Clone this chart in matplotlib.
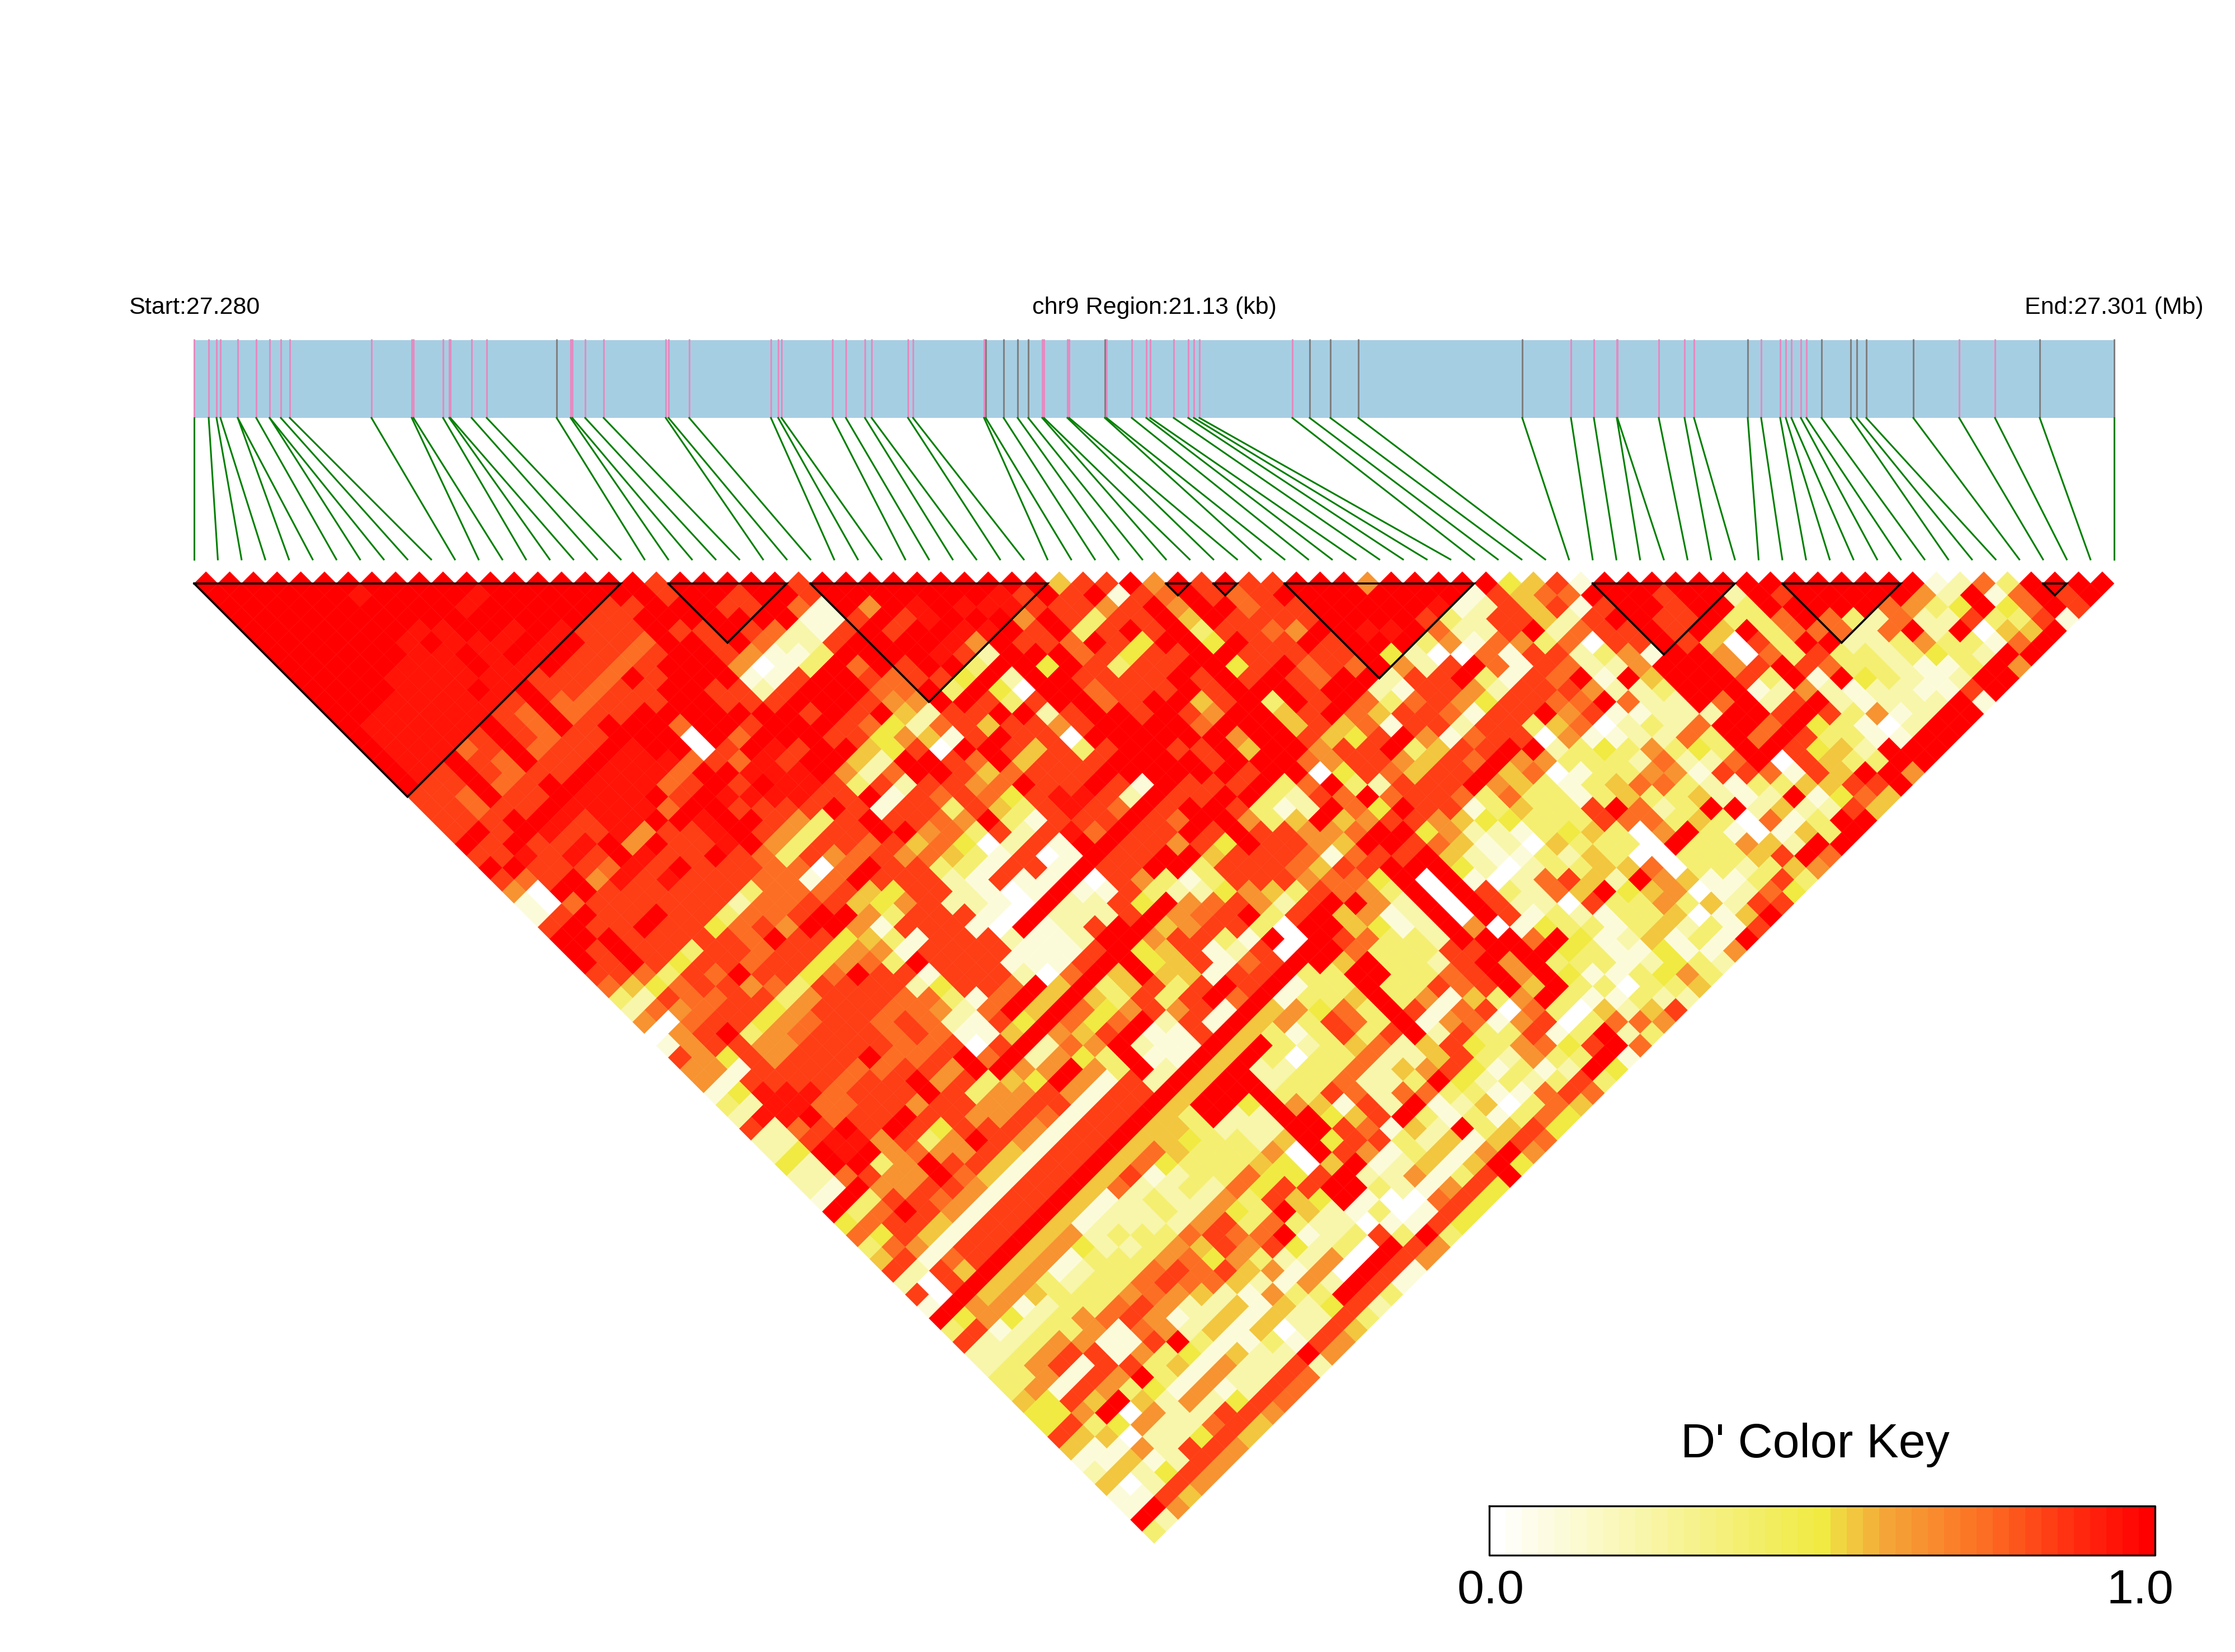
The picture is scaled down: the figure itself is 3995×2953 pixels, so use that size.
import matplotlib
matplotlib.use("Agg")
import matplotlib.pyplot as plt
from matplotlib.collections import PolyCollection
from matplotlib.colors import LinearSegmentedColormap
import numpy as np

plt.rcParams['font.family'] = ['Liberation Sans', 'DejaVu Sans']

W, H = 3995, 2953

# snp positions along the gene bar, on the pixel scale of the map
snp_pos = [347, 373, 387, 394, 425, 425, 458, 482, 482, 502, 518, 664, 736, 739, 792, 803, 805,
           843, 870, 995, 1020, 1023, 1046, 1079, 1190, 1195, 1232, 1378, 1391, 1397, 1488, 1512,
           1546, 1558, 1623, 1632, 1759, 1762, 1794, 1819, 1838, 1863, 1866, 1908, 1911, 1975,
           1978, 2023, 2049, 2056, 2098, 2124, 2134, 2144, 2310, 2341, 2378, 2428, 2721, 2808,
           2849, 2890, 2891, 2965, 3011, 3028, 3124, 3148, 3182, 3192, 3202, 3219, 3229, 3256,
           3308, 3319, 3336, 3420, 3502, 3566, 3646, 3779]
grey_snps = [19, 37, 38, 39, 40, 45, 55, 56, 57, 58, 66, 73, 74, 75, 76, 77, 80, 81]

# ld blocks as (first snp, last snp)
blocks = [(0, 18), (20, 25), (26, 36), (41, 42), (43, 44), (46, 54), (59, 65), (67, 72), (78, 79)]

# D' for each row of the triangle, row d holds the pairs (i, i+d+1)
# every character is a key of dprime_levels, spaces only make counting easier
dprime_levels = {'0': 0.0, '1': 0.1, '2': 0.22, '3': 0.37, '4': 0.5, '5': 0.56, '6': 0.64,
                 '7': 0.74, '8': 0.85, 'a': 0.95, '9': 1.0}
dprime_rows = [
    "9999999999 9999999998 9999989999 9999995889 6989889996 9999945819 9999999999 99912739999",
    "999999a999 9a99999998 9989989999 999a898918 7987899999 9991857799 9899298999 9962917989",
    "9999999999 a999998899 988971969a 9aaa888689 6997889999 9a12858189 9899399999 763494798",
    "9999999999 9999988999 999911898a 9996983889 5988889999 8328852899 8893379732 72283381",
    "9999999aa9 9a9a888988 9872189899 aa98938989 3887699aa9 7228927889 8959377727 9290559",
    "999999a9aa a9a9887998 972289999a 6988798499 4988989993 6176370889 8508399223 633179",
    "999999aa9a 9a98878998 61139999a8 2999784889 9888889420 0718823619 9607383323 43299",
    "99999aaa9a a988789996 0139798993 9949838899 4897879628 9718722699 9689873321 1396",
    "9999aaaaaa 8887989991 1899878849 2998888989 8987992889 3187919599 9839194321 299",
    "9999aaa9a9 8878899882 8999779394 0997888989 9989921886 2888622399 9126212211 89",
    "999aaaaa89 7788899888 9998669983 8997899589 3989737864 8877972297 9289212229 1",
    "99aaaaa879 7889999999 8989528899 2899898699 5897588718 8968112229 9898361299",
    "9aaaaa9879 8999799899 9874278588 6899997999 5857188288 3570232799 794310299",
    "9aaaa89878 8999097999 8846518988 0999999699 8548961788 0611227397 98331199",
    "9aaa789788 9a99089a89 9548099858 3899889599 6889358899 2343634399 8452999",
    "9aa9879889 aaa787a899 5299879588 8999989997 6886587966 3332722790 853399",
    "9a8987889a aa799aaa96 2799857888 9997998990 4875889570 1336618871 85996",
    "98897899aa a78989aa83 8288679889 8198889379 3288896531 3577321335 5889",
    "8879889aaa 989aaaa889 1878748aa8 2888993287 9788737331 3533521291 475",
    "887889aaaa 7998888981 8838538a87 2899831297 4988135338 9723992522 85",
    "88899a8aa9 9a99863898 8769318881 8799635956 8865443338 7735307139 9",
    "8989a88a68 8a98638899 673828a788 8989886679 9462213453 0693101539",
    "98988a9698 8a96388785 7402819888 6849886599 8751205333 093365299",
    "88a8a89a88 9873867867 5318019889 9588871788 3521132530 03335897",
    "998887a898 8877079883 3188108899 3888758889 9420233557 0332356",
    "87896a8a88 8771798882 1811108631 3888677486 3102785296 511383",
    "6099888888 3777854882 1019118322 4653876330 2832759456 01274",
    "1078888882 7788546822 1092284367 8628966211 8822083363 5288",
    "1898898837 7899638881 0922282678 9389561229 0813213350 159",
    "8988988478 6996188810 4128935688 3098541226 8143313523 18",
    "9998888879 8845318882 1129468831 9098733289 9794125131 9",
    "9898838878 8466188881 1188458128 0997333889 8943114116",
    "9898488788 4673988811 1839458178 2959332896 833312432",
    "8873879884 7988188820 7459551885 3389337896 94113463",
    "7547886738 8882488795 3358389861 3383387835 9330335",
    "3287788368 8877317953 5383897313 3533615369 311322",
    "2767884688 8776279537 4686813564 7338178073 05258",
    "6078846788 7872184374 7928185638 7381671680 3776",
    "0689367888 7871153658 9118383138 3822833813 923",
    "1688668888 7780862769 2118993235 7258436748 97",
    "8648688897 7897326439 1189930337 2258326339 1",
    "6618888778 8693669639 2909223372 5684131294",
    "6188887889 6835496392 2999233722 394232383",
    "14aaa78889 8366861874 8991338727 73311787",
    "32aa778868 8668828758 9943651829 1250375",
    "2aa9788988 6687178353 9225945893 131374",
    "8278989848 8861897853 2228987152 93584",
    "228aa68369 8618195543 3259488325 1587",
    "249a967668 5118937533 3609861351 696",
    "4299369885 0889274333 5405912515 94",
    "2278669751 8896812337 4489226138 9",
    "2196688618 8967223274 8899321684",
    "1938876087 9612322638 549100784",
    "9379861889 6122326439 52130184",
    "4788508895 1222268373 2201184",
    "7485288956 2333787791 238393",
    "3762889664 2236586842 30986",
    "5817895613 3367463226 0096",
    "8285956123 3787856160 191",
    "2089663233 7877521621 91",
    "8094653336 7652163349 3",
    "1966123378 6225152482",
    "9464236786 125152283",
    "3812336176 25150285",
    "8223661189 3113186",
    "2236881634 152296",
    "2368188351 62282",
    "3361869316 2287",
    "3618634161 287",
    "5485952624 87",
    "4469062288 6",
    "4834622785",
    "855022485",
    "51162886",
    "1151286",
    "252486",
    "50276",
    "1185",
    "196",
    "92",
    "3",
]

# long unbroken stripes read again from the crops: (second index j, i from, i to, level)
stripes_j = [(63, 3, 25, '5'), (60, 5, 18, '8'), (61, 5, 18, '8'), (59, 2, 17, '1'), (62, 0, 33, '9'),
             (62, 35, 35, '9'), (49, 20, 33, '9'), (54, 13, 27, '9'), (79, 2, 22, '8'), (79, 0, 1, '9'),
             (79, 14, 14, '9'), (78, 18, 22, '9')]
# same for stripes with a fixed first index: (first index i, j from, j to, level)
stripes_i = [(40, 63, 68, '9'), (40, 69, 69, '0'), (40, 70, 72, '9'), (39, 64, 67, '0'), (38, 62, 68, '9'),
             (38, 70, 72, '9'), (32, 65, 70, '9'), (23, 64, 70, '9')]

heat = LinearSegmentedColormap.from_list("ld_heat", [
    (0.0, "#ffffff"), (0.5, "#f0ea42"), (0.525, "#f0d741"), (0.6, "#f5a537"),
    (0.75, "#fc6e23"), (0.875, "#ff3212"), (1.0, "#ff0000")], N=41)

fig = plt.figure(figsize=(W / 100, H / 100), dpi=100)
ax = fig.add_axes([0, 0, 1, 1])
ax.set_xlim(0, W)
ax.set_ylim(H, 0)
ax.axis("off")

# gene bar
bar_top, bar_bottom = 608, 747
left, right = snp_pos[0], snp_pos[-1]
ax.fill_between([left, right], bar_top, bar_bottom, color="#a6cee3", lw=0, zorder=1)

n = len(snp_pos)
map_bottom = 1000
map_x = np.linspace(left, right, n)
for k, p in enumerate(snp_pos):
    col = "#808080" if k in grey_snps else "#e48bc0"
    ax.plot([p, p], [bar_top - 2, bar_bottom], color=col, lw=2.2, solid_capstyle="butt", zorder=2)
    ax.plot([p, map_x[k]], [bar_bottom, map_bottom], color="#008000", lw=2.2, zorder=2)

ax.text(left, 550, "Start:27.280", fontsize=31, ha="center", va="center")
ax.text((left + right) / 2, 550, "chr9 Region:21.13 (kb)", fontsize=31, ha="center", va="center")
ax.text(right, 550, "End:27.301 (Mb)", fontsize=31, ha="center", va="center")

# ld triangle
rows = [list(r.replace(" ", "")) for r in dprime_rows]
for j, i_from, i_to, c in stripes_j:
    for i in range(i_from, i_to + 1):
        rows[j - i][i] = c
for i, j_from, j_to, c in stripes_i:
    for j in range(j_from, j_to + 1):
        rows[j - i][i] = c

step = map_x[1] - map_x[0]
half = step / 2
y0 = 1043
polys, vals = [], []
for d, row in enumerate(rows):
    for i, c in enumerate(row):
        cx = (map_x[i] + map_x[i + d + 1]) / 2
        cy = y0 + d * half
        polys.append([(cx - half, cy), (cx, cy - half), (cx + half, cy), (cx, cy + half)])
        vals.append(dprime_levels[c])
cells = PolyCollection(polys, array=np.array(vals), cmap=heat, edgecolors="face", linewidths=0.3, zorder=3)
cells.set_clim(0, 1)
ax.add_collection(cells)

for a, b in blocks:
    xa, xb = map_x[a], map_x[b]
    ax.plot([xa, xb, (xa + xb) / 2, xa], [y0, y0, y0 + (xb - xa) / 2, y0], color="black", lw=2.6,
            solid_joinstyle="miter", zorder=4)

# colour key
key_x = np.linspace(2662, 3852, 42)
key_levels = (np.arange(41) + 0.5) / 41
ax.pcolormesh(key_x, [2692, 2780], key_levels[np.newaxis, :], cmap=heat, vmin=0, vmax=1, zorder=3)
ax.plot([2662, 3852, 3852, 2662, 2662], [2692, 2692, 2780, 2780, 2692], color="black", lw=2.4, zorder=4)
ax.text(3244, 2605, "D' Color Key", fontsize=62, ha="center", va="baseline")
ax.text(2665, 2866, "0.0", fontsize=62, ha="center", va="baseline")
ax.text(3825, 2866, "1.0", fontsize=62, ha="center", va="baseline")

fig.savefig("out.png", dpi=100)
